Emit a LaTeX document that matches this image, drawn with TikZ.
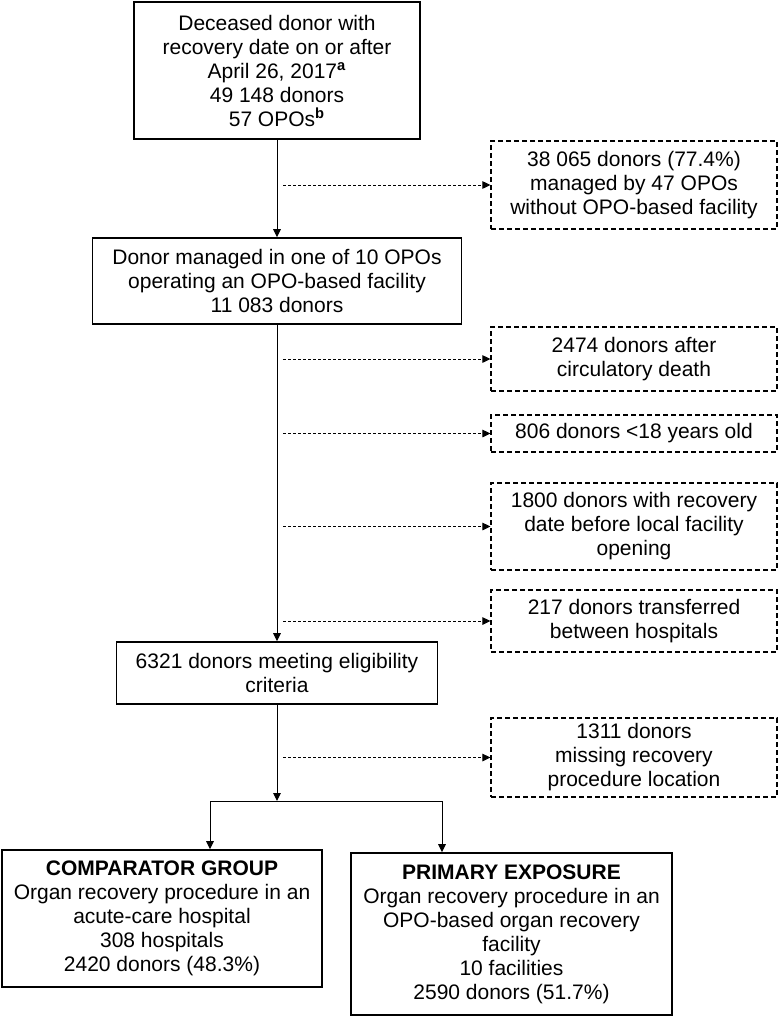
\documentclass[tikz,border=0pt]{standalone}
\usepackage{fontspec}
\setmainfont{Liberation Sans}
\usetikzlibrary{arrows.meta}

\begin{document}
\begin{tikzpicture}[x=0.5pt,y=-0.5pt,
        box/.style={draw,line width=0.8pt,align=center,inner sep=0pt,font=\fontsize{10.5}{12}\selectfont},
        exbox/.style={box,line width=0.65pt,dash pattern=on 2.5pt off 1.5pt,minimum width=143pt},
        flow/.style={line width=0.5pt,-{Triangle[length=4pt,width=3.8pt]}},
        exflow/.style={flow,dash pattern=on 1.5pt off 1pt}]

            % \draw [help lines] (0,0) grid (780,1017);
            \useasboundingbox (0,0) rectangle (780,1017);

            \path   (277,70.5)  node (a) [box,minimum width=143pt,minimum height=68.5pt]
                        {Deceased donor with\\recovery date on or after\\April 26, 2017\textsuperscript{\textbf{a}}\\49 148 donors\\57 OPOs\textsuperscript{\textbf{b}}}
                    (277,281)   node (b) [box,minimum width=184.5pt,minimum height=43pt]
                        {Donor managed in one of 10 OPOs\\operating an OPO-based facility\\11 083 donors}
                    (277,673)   node (c) [box,minimum width=160.5pt,minimum height=31pt]
                        {6321 donors meeting eligibility\\criteria}
                    (162,918.5) node (d) [box,minimum width=160pt,minimum height=68.5pt]
                        {\textbf{COMPARATOR GROUP}\\Organ recovery procedure in an\\acute-care hospital\\308 hospitals\\2420 donors (48.3\%)}
                    (511.5,934) node (e) [box,minimum width=160.5pt,minimum height=81pt]
                        {\textbf{PRIMARY EXPOSURE}\\Organ recovery procedure in an\\OPO-based organ recovery\\facility\\10 facilities\\2590 donors (51.7\%)};

            \path   (634,185)   node (f) [exbox,minimum height=44pt]
                        {38 065 donors (77.4\%)\\managed by 47 OPOs\\without OPO-based facility}
                    (634,359)   node (g) [exbox,minimum height=32pt]
                        {2474 donors after\\circulatory death}
                    (634,433.5) node (h) [exbox,minimum height=18.5pt]
                        {806 donors <18 years old}
                    (634,526.5) node (i) [exbox,minimum height=43.5pt]
                        {1800 donors with recovery\\date before local facility\\opening}
                    (634,621)   node (j) [exbox,minimum height=31pt]
                        {217 donors transferred\\between hospitals}
                    (634,757.5) node (k) [exbox,minimum height=39.5pt]
                        {1311 donors\\missing recovery\\procedure location};

            \coordinate (t) at (283,0);
            \coordinate (s) at (277,801);
            \coordinate (sl) at (210,801);
            \coordinate (sr) at (442,801);

            \draw[flow] (a) -- (b);
            \draw[flow] (b) -- (c);
            \draw[flow] (c) -- (s);
            \draw[line width=0.5pt] (sl) -- (sr);
            \draw[flow] (sl) -- (sl |- d.north);
            \draw[flow] (sr) -- (sr |- e.north);

            \draw[exflow] (f.west -| t) -- (f.west);
            \draw[exflow] (g.west -| t) -- (g.west);
            \draw[exflow] (h.west -| t) -- (h.west);
            \draw[exflow] (i.west -| t) -- (i.west);
            \draw[exflow] (j.west -| t) -- (j.west);
            \draw[exflow] (k.west -| t) -- (k.west);

\end{tikzpicture}
\end{document}
